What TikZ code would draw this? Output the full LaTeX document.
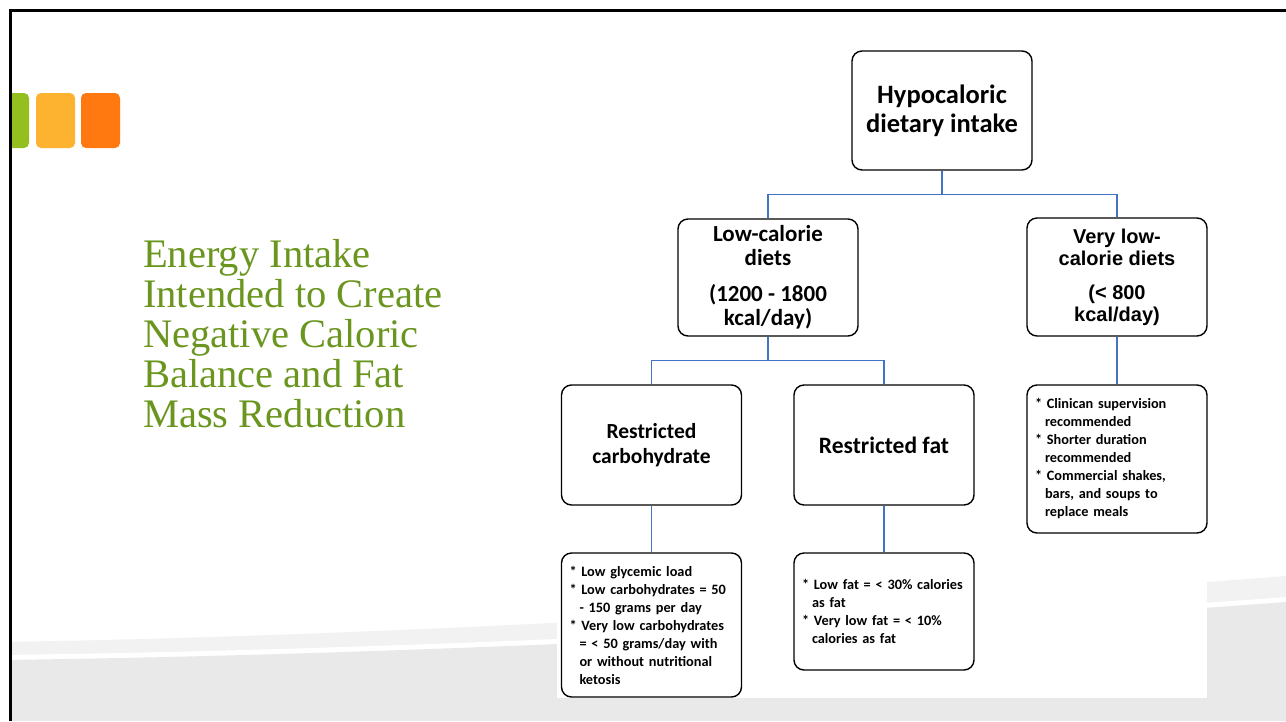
\documentclass[tikz,border=0pt]{standalone}
\usepackage{fontspec}
\setmainfont{Liberation Serif}
\newfontfamily\calibrifont{Carlito}
\newfontfamily\arialfont{Liberation Sans}
\usetikzlibrary{calc}
\definecolor{titlegreen}{RGB}{106,150,31}
\definecolor{sqgreen}{RGB}{147,192,31}
\definecolor{sqyellow}{RGB}{253,179,47}
\definecolor{sqorange}{RGB}{255,120,16}
\definecolor{connblue}{RGB}{68,114,196}
\definecolor{bandlight}{RGB}{242,242,242}
\definecolor{bandgray}{RGB}{233,233,233}
\newcommand{\ind}{\hspace*{10pt}}
\newcommand{\st}{{*}\ }
\begin{document}
\begin{tikzpicture}[x=1pt,y=-1pt,
  box/.style={draw=black, line width=1.4pt, rounded corners=10pt, minimum width=180pt, inner sep=0pt, align=center, fill=white},
  headfont/.style={font=\fontsize{26.5}{29}\selectfont\calibrifont\bfseries},
  midfont/.style={font=\fontsize{23}{24}\selectfont\calibrifont\bfseries},
  arialmid/.style={font=\fontsize{20}{22}\selectfont\arialfont\bfseries},
  subfont/.style={font=\fontsize{22}{25}\selectfont\calibrifont\bfseries},
  detail/.style={draw=black, line width=1.4pt, rounded corners=10pt, minimum width=180pt, text width=164pt, inner xsep=8pt, inner ysep=0pt, align=left, fill=white, font=\fontsize{14.3}{18}\selectfont\calibrifont\bfseries},
  conn/.style={draw=connblue, line width=1.2pt},
  square/.style={rounded corners=5pt}]
\useasboundingbox (0,0) rectangle (1286,721);
\fill[white] (0,0) rectangle (1286,721);
% background wave
\fill[bandlight] (0,642) .. controls (400,636) and (900,606) .. (1286,576) -- (1286,721) -- (0,721) -- cycle;
\fill[white] (0,655) .. controls (400,650) and (900,626) .. (1286,597) -- (1286,721) -- (0,721) -- cycle;
\fill[bandgray] (0,660) .. controls (400,655) and (900,631) .. (1286,602) -- (1286,721) -- (0,721) -- cycle;
% white area behind diagram
\fill[white] (557,40) rectangle (1207,698);
% squares
\fill[sqgreen, square] (-10,93) rectangle (29,148);
\fill[sqyellow, square] (36,93) rectangle (75,148);
\fill[sqorange, square] (81,93) rectangle (120,148);
\fill[white] (0,0) rectangle (9.5,721);
\fill[white] (0,0) rectangle (1286,9.5);
% frame
\draw[black, line width=3pt] (10.5,721) -- (10.5,10.5) -- (1286,10.5);
% title
\node[anchor=north west, inner sep=0pt, align=left, text=titlegreen, font=\fontsize{40.5}{39.8}\selectfont] (title) at (143,239.5)
  {Energy Intake\\Intended to Create\\Negative Caloric\\Balance and Fat\\Mass Reduction};
% boxes
\node[box, headfont, minimum height=119pt] (hypo) at (942,110.5) {Hypocaloric\\dietary intake};
\node[box, midfont, minimum height=117pt] (low) at (768,277.5) {Low-calorie\\diets\\[12pt](1200 - 1800\\kcal/day)};
\node[box, arialmid, minimum height=118pt] (vlow) at (1117,277) {Very low-\\calorie diets\\[12pt](< 800\\kcal/day)};
\node[box, subfont, font=\fontsize{21.5}{25}\selectfont\calibrifont\bfseries, minimum height=120pt] (carb) at (651.5,445) {Restricted\\carbohydrate};
\node[box, subfont, font=\fontsize{23.5}{25}\selectfont\calibrifont\bfseries, minimum height=120pt] (fat) at (884,445) {Restricted fat};
\node[detail, minimum height=144pt] (carbd) at (651.5,625)
  {\st Low glycemic load\\\st Low carbohydrates = 50\\\ind- 150 grams per day\\\st Very low carbohydrates\\\ind= < 50 grams/day with\\\ind or without nutritional\\\ind ketosis};
\node[detail, minimum height=117pt] (fatd) at (884,611.5)
  {\st Low fat = < 30\% calories\\\ind as fat\\\st Very low fat = < 10\%\\\ind calories as fat};
\node[detail, minimum height=148pt] (vlowd) at (1117,459)
  {\st Clinican supervision\\\ind recommended\\\st Shorter duration\\\ind recommended\\\st Commercial shakes,\\\ind bars, and soups to\\\ind replace meals};
% connectors
\draw[conn] (hypo.south) -- ++(0,24) coordinate (hj) -| (low.north);
\draw[conn] (hj) -| (vlow.north);
\draw[conn] (low.south) -- ++(0,24) coordinate (lj) -| (carb.north);
\draw[conn] (lj) -| (fat.north);
\draw[conn] (carb.south) -- (carbd.north);
\draw[conn] (fat.south) -- (fatd.north);
\draw[conn] (vlow.south) -- (vlowd.north);
\end{tikzpicture}
\end{document}
